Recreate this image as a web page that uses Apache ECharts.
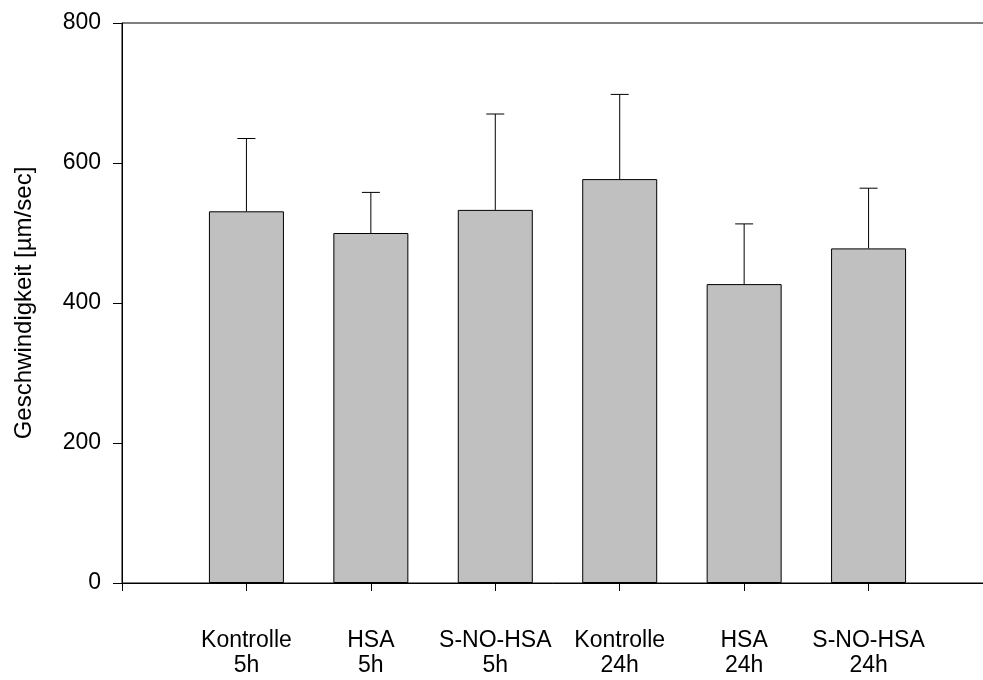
<!DOCTYPE html>
<html>
<head>
<meta charset="utf-8">
<script src="https://cdn.jsdelivr.net/npm/echarts@6/dist/echarts.min.js"></script>
<style>
  html, body { margin: 0; padding: 0; background: #ffffff; }
  #chart { width: 983px; height: 680px; }
</style>
</head>
<body>
<div id="chart"></div>
<script>
// Groups along the x axis (two-line labels)
const categories = ['Kontrolle\n5h', 'HSA\n5h', 'S-NO-HSA\n5h', 'Kontrolle\n24h', 'HSA\n24h', 'S-NO-HSA\n24h'];
// Mean velocity per group [µm/sec]
const meanValues = [531, 500, 533, 577, 427, 478];
// Upper end of the error bar (mean + SD) per group
const errorTops = [635, 558, 670, 698, 513, 564];
// Y axis tick values
const yTicks = [0, 200, 400, 600, 800];

const FONT = '"Liberation Sans", Arial, sans-serif';

const chart = echarts.init(document.getElementById('chart'), null, { renderer: 'canvas' });

const barData = meanValues.map((v, i) => [i + 1, v]);
const errData = meanValues.map((v, i) => [i + 1, v, errorTops[i]]);

chart.setOption({
  animation: false,
  backgroundColor: '#ffffff',
  // the frame runs a little past the right edge of the page
  grid: {
    left: 122, top: 23, width: 871, height: 560,
    containLabel: false,
    outerBoundsMode: 'none',
    show: true, borderColor: '#000000', borderWidth: 1
  },
  xAxis: {
    type: 'value',
    min: 0, max: categories.length + 1, interval: 1,
    axisLine: { show: true, lineStyle: { color: '#000000', width: 1 } },
    axisTick: { show: true, inside: false, length: 8, lineStyle: { color: '#000000' } },
    splitLine: { show: false },
    axisLabel: {
      margin: 45,
      fontFamily: FONT, fontSize: 23, lineHeight: 25, color: '#000000',
      formatter: v => categories[v - 1] || ''
    }
  },
  yAxis: {
    type: 'value',
    min: yTicks[0], max: yTicks[yTicks.length - 1], interval: yTicks[1] - yTicks[0],
    name: 'Geschwindigkeit [µm/sec]',
    nameLocation: 'middle',
    nameGap: 86,
    nameTextStyle: { fontFamily: FONT, fontSize: 24, color: '#000000' },
    axisLine: { show: true, lineStyle: { color: '#000000', width: 1 } },
    axisTick: { show: true, inside: false, length: 9, lineStyle: { color: '#000000' } },
    splitLine: { show: false },
    axisLabel: { margin: 21, fontFamily: FONT, fontSize: 23, color: '#000000' }
  },
  series: [
    {
      type: 'bar',
      data: barData,
      barWidth: 75,
      itemStyle: { color: '#c0c0c0', borderColor: '#000000', borderWidth: 1 },
      z: 2
    },
    {
      type: 'custom',
      data: errData,
      z: 3,
      renderItem: function (params, api) {
        const x = api.value(0);
        const base = api.coord([x, api.value(1)]);
        const top = api.coord([x, api.value(2)]);
        const half = 9;
        return {
          type: 'group',
          children: [
            { type: 'line', shape: { x1: base[0], y1: base[1], x2: top[0], y2: top[1] },
              style: { stroke: '#000000', lineWidth: 1 } },
            { type: 'line', shape: { x1: top[0] - half, y1: top[1], x2: top[0] + half, y2: top[1] },
              style: { stroke: '#000000', lineWidth: 1 } }
          ]
        };
      }
    }
  ]
});
</script>
</body>
</html>
